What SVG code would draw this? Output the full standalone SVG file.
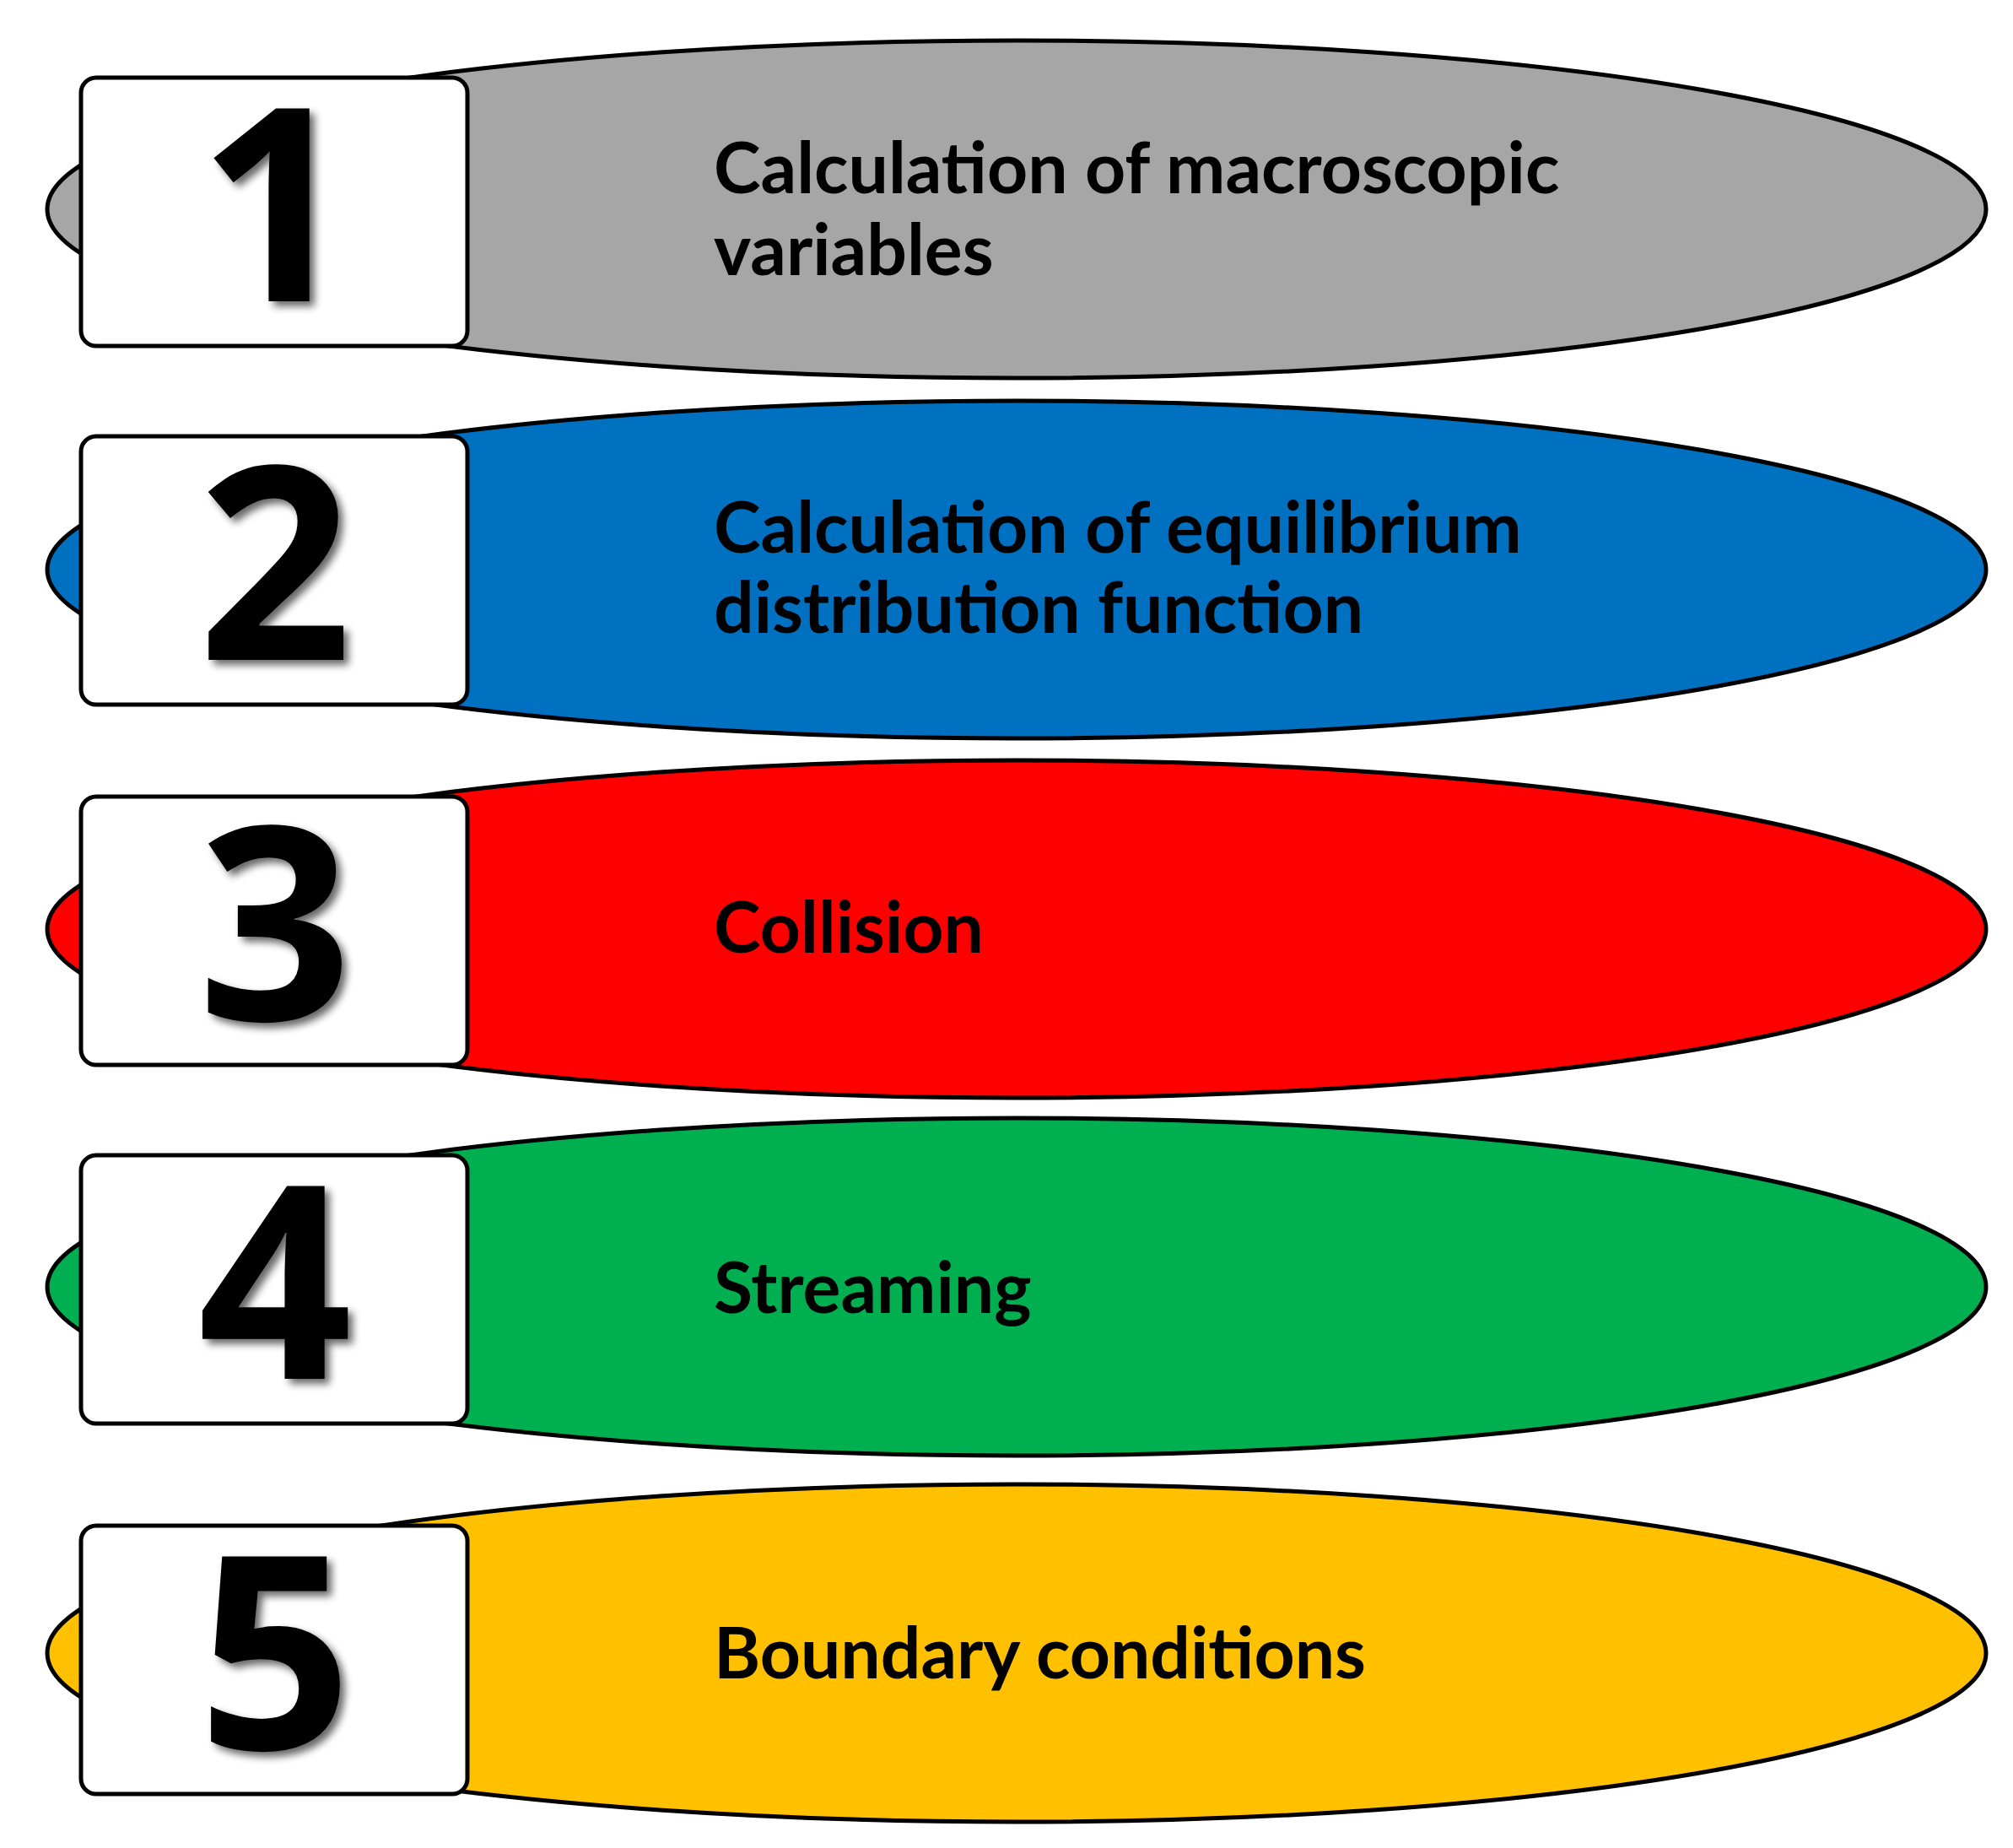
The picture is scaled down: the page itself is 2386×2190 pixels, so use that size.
<svg xmlns="http://www.w3.org/2000/svg" width="2386" height="2190" viewBox="0 0 2386 2190">
<style>
.el{stroke:#000;stroke-width:5}
.bx{fill:#fff;stroke:#000;stroke-width:5}
.num{font-family:"Open Sans","DejaVu Sans",sans-serif;font-weight:700;font-size:320px;text-anchor:middle;fill:#000}
.lb{font-family:Lato,"Open Sans",sans-serif;font-weight:700;font-size:84px;fill:#000}
</style>
<defs><filter id="sh" x="-20%" y="-20%" width="140%" height="140%"><feGaussianBlur in="SourceAlpha" stdDeviation="5"/><feOffset dx="6" dy="6"/><feComponentTransfer><feFuncA type="linear" slope="0.6"/></feComponentTransfer><feMerge><feMergeNode/><feMergeNode in="SourceGraphic"/></feMerge></filter></defs>
<rect width="2386" height="2190" fill="#fff"/>
<g id="step1"><ellipse class="el" cx="1205" cy="248" rx="1149" ry="200" fill="#a6a6a6"/><rect class="bx" x="96" y="92" width="458" height="318" rx="18"/><text class="num" x="326" y="357" filter="url(#sh)">1</text><text class="lb" x="846" y="229">Calculation of macroscopic</text><text class="lb" x="846" y="326">variables</text></g>
<g id="step2"><ellipse class="el" cx="1205" cy="675" rx="1149" ry="200" fill="#0070c0"/><rect class="bx" x="96" y="517" width="458" height="318" rx="18"/><text class="num" x="326" y="782" filter="url(#sh)">2</text><text class="lb" x="846" y="655">Calculation of equilibrium</text><text class="lb" x="846" y="750">distribution function</text></g>
<g id="step3"><ellipse class="el" cx="1205" cy="1101" rx="1149" ry="200" fill="#ff0000"/><rect class="bx" x="96" y="944" width="458" height="318" rx="18"/><text class="num" x="326" y="1209" filter="url(#sh)">3</text><text class="lb" x="846" y="1129">Collision</text></g>
<g id="step4"><ellipse class="el" cx="1205" cy="1525" rx="1149" ry="200" fill="#00b050"/><rect class="bx" x="96" y="1369" width="458" height="318" rx="18"/><text class="num" x="326" y="1634" filter="url(#sh)">4</text><text class="lb" x="846" y="1556">Streaming</text></g>
<g id="step5"><ellipse class="el" cx="1205" cy="1959" rx="1149" ry="200" fill="#ffc000"/><rect class="bx" x="96" y="1808" width="458" height="318" rx="18"/><text class="num" x="326" y="2073" filter="url(#sh)">5</text><text class="lb" x="846" y="1989">Boundary conditions</text></g>
<g id="connectors"/>
</svg>
